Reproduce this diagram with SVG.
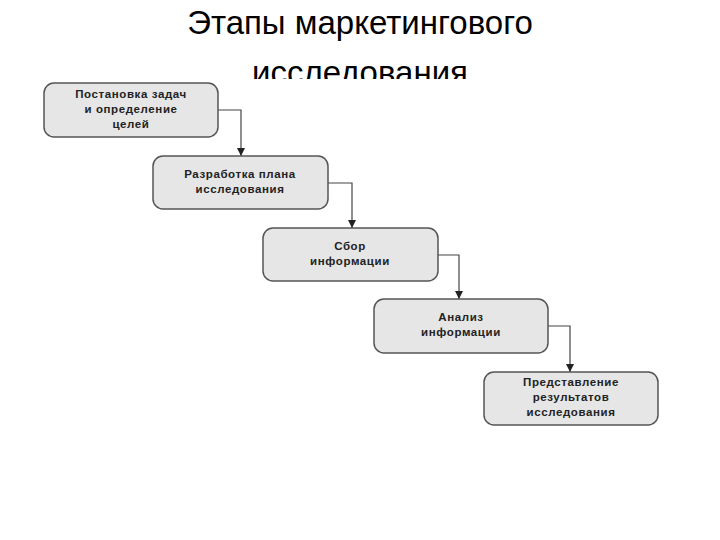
<svg xmlns="http://www.w3.org/2000/svg" width="720" height="540" viewBox="0 0 720 540">
<style>
.t{font-family:"Liberation Sans",Arial,sans-serif;font-size:33px;fill:#000;text-anchor:middle}
.b{fill:#e6e6e6;stroke:#555;stroke-width:1.5}
.l{font-family:"Liberation Sans",Arial,sans-serif;font-size:11.5px;font-weight:bold;fill:#222;text-anchor:middle;letter-spacing:0.6px}
.c{fill:none;stroke:#444;stroke-width:1.2}
</style>
<defs><marker id="a" markerWidth="8" markerHeight="8" refX="4" refY="7" orient="auto" markerUnits="userSpaceOnUse"><path d="M0,0 L8,0 L4,8 Z" fill="#222" transform="rotate(-90 4 4)"/></marker>
<marker id="d" markerWidth="8" markerHeight="8" refX="4" refY="8" markerUnits="userSpaceOnUse"><path d="M0,0 L8,0 L4,8 Z" fill="#222"/></marker></defs>
<rect width="720" height="540" fill="#fff"/>
<text class="t" x="360" y="34">Этапы маркетингового</text>
<text class="t" x="360" y="84">исследования</text>
<rect x="0" y="79" width="720" height="20" fill="#fff"/>
<g id="connectors">
<path class="c" d="M218,110 H241 V156" marker-end="url(#d)"/>
<path class="c" d="M328,183 H352 V228" marker-end="url(#d)"/>
<path class="c" d="M438,255 H459 V299" marker-end="url(#d)"/>
<path class="c" d="M548,326 H570 V372" marker-end="url(#d)"/>
</g>
<g id="n1"><rect class="b" x="44" y="83" width="174" height="54" rx="10"/><text class="l" x="131" y="98">Постановка задач</text><text class="l" x="131" y="113">и определение</text><text class="l" x="131" y="128">целей</text></g>
<g id="n2"><rect class="b" x="153" y="156" width="175" height="53" rx="10"/><text class="l" x="240" y="178">Разработка плана</text><text class="l" x="240" y="193">исследования</text></g>
<g id="n3"><rect class="b" x="263" y="228" width="175" height="53" rx="10"/><text class="l" x="350" y="250">Сбор</text><text class="l" x="350" y="265">информации</text></g>
<g id="n4"><rect class="b" x="374" y="299" width="174" height="54" rx="10"/><text class="l" x="461" y="321">Анализ</text><text class="l" x="461" y="336">информации</text></g>
<g id="n5"><rect class="b" x="484" y="372" width="174" height="53" rx="10"/><text class="l" x="571" y="386">Представление</text><text class="l" x="571" y="401">результатов</text><text class="l" x="571" y="416">исследования</text></g>
</svg>
